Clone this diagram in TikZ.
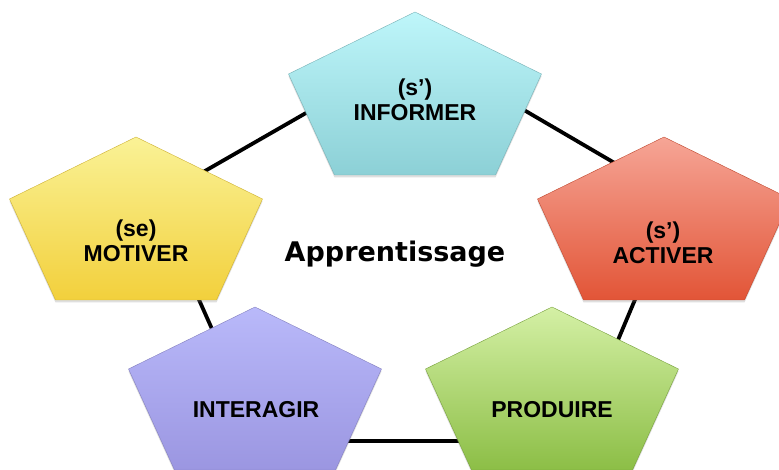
\documentclass[tikz,border=0pt]{standalone}
\usepackage{fontspec}
\setmainfont{Liberation Sans}
\newfontfamily\appfont{DejaVu Sans}
\usetikzlibrary{shadows,fadings}
\definecolor{infT}{RGB}{190,246,250}
\definecolor{infB}{RGB}{140,208,214}
\definecolor{actT}{RGB}{246,165,150}
\definecolor{actB}{RGB}{226,85,55}
\definecolor{motT}{RGB}{250,242,150}
\definecolor{motB}{RGB}{242,208,60}
\definecolor{intT}{RGB}{185,185,250}
\definecolor{intB}{RGB}{155,150,225}
\definecolor{proT}{RGB}{212,240,165}
\definecolor{proB}{RGB}{140,190,70}
\begin{document}
\begin{tikzpicture}[x=1pt,y=-1pt,
  link/.style={line width=3.8pt, black},
  penta/.style 2 args={top color=#1, bottom color=#2, draw=#2!85!black, line width=0.4pt,
     drop shadow={shadow xshift=0pt,shadow yshift=-2.5pt,opacity=0.25}},
  lbl/.style={font=\bfseries\fontsize{23}{25}\selectfont, align=center, text=black},
  center/.style={font=\appfont\bfseries\fontsize{27}{30}\selectfont, text=black}]
\clip (0,0) rectangle (779,470);
\fill[white] (0,0) rectangle (779,470);
% connector end points
\coordinate (motA) at (190,179.6);
\coordinate (infA) at (330,99.2);
\coordinate (infB) at (500,96);
\coordinate (actA) at (630,172);
\coordinate (actB) at (638,292.5);
\coordinate (proA) at (614,349.5);
\coordinate (proB) at (470,441);
\coordinate (intA) at (340,441);
\coordinate (intB) at (216,338);
\coordinate (motB) at (196,293);
% connectors
\draw[link] (motA) -- (infA);
\draw[link] (infB) -- (actA);
\draw[link] (actB) -- (proA);
\draw[link] (proB) -- (intA);
\draw[link] (intB) -- (motB);
% pentagons
\path[penta={infT}{infB}] (415,12) -- ++(126.5,62) -- ++(-46,101) -- ++(-161,0) -- ++(-46,-101) -- cycle;
\path[penta={actT}{actB}] (664,137) -- ++(126.5,62) -- ++(-46,101) -- ++(-161,0) -- ++(-46,-101) -- cycle;
\path[penta={motT}{motB}] (136,137) -- ++(126.5,62) -- ++(-46,101) -- ++(-161,0) -- ++(-46,-101) -- cycle;
\path[penta={intT}{intB}] (255,307) -- ++(126.5,62) -- ++(-46,101) -- ++(-161,0) -- ++(-46,-101) -- cycle;
\path[penta={proT}{proB}] (552,307) -- ++(126.5,62) -- ++(-46,101) -- ++(-161,0) -- ++(-46,-101) -- cycle;
% labels
\node[lbl] (tinf) at (415,100) {(s’)\\INFORMER};
\node[lbl] (tact) at (663,243) {(s’)\\ACTIVER};
\node[lbl] (tmot) at (136,241) {(se)\\MOTIVER};
\node[lbl] (tint) at (256,410) {INTERAGIR};
\node[lbl] (tpro) at (552,410) {PRODUIRE};
\node[center, anchor=base] (tapp) at (395,262) {Apprentissage};
\end{tikzpicture}
\end{document}
